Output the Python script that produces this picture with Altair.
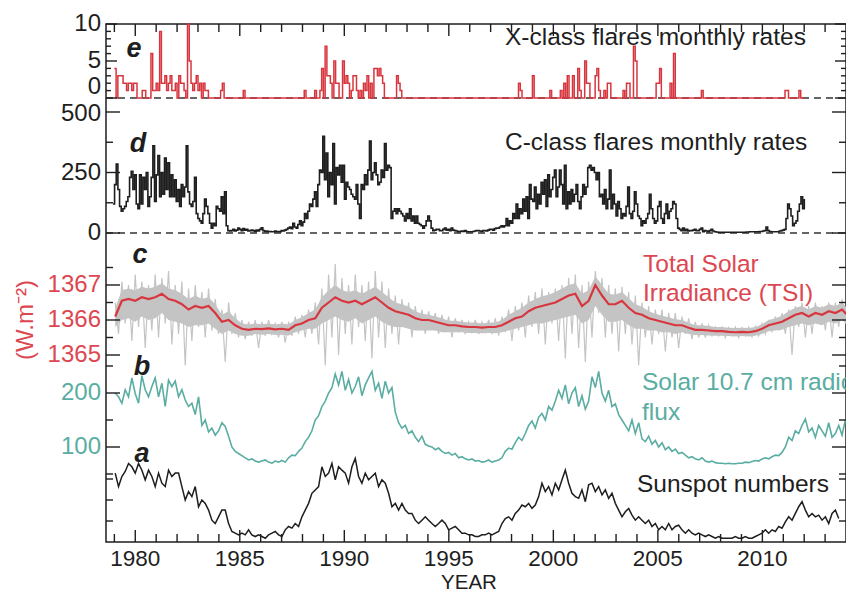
import altair as alt
import numpy as np
import pandas as pd

# ---------------- data ----------------
# a: sunspot numbers, sampled every SS_DT years from SS_T0
SS_T0 = 1979.04
SS_DT = 0.1595
SUNSPOT = [
    164, 132, 156, 168, 187, 179, 164, 187, 171, 148, 171, 156, 132, 164, 140, 132, 171, 156, 164, 164,
    132, 100, 120, 108, 132, 84, 100, 92, 76, 52, 44, 60, 76, 76, 44, 25, 21, 17, 21, 17,
    29, 17, 13, 17, 13, 9, 17, 21, 25, 17, 13, 29, 37, 33, 44, 37, 60, 76, 92, 116,
    124, 132, 179, 156, 164, 187, 148, 179, 171, 164, 140, 179, 199, 156, 140, 164, 148, 156, 164, 132,
    148, 140, 116, 84, 92, 76, 92, 76, 68, 68, 52, 44, 52, 60, 52,
    44, 37, 44, 52, 44, 29, 33, 37, 29, 21, 21, 17, 17, 13, 13, 17, 17, 21, 17, 21,
    25, 44, 56, 60, 52, 68, 76, 88, 84, 92, 80, 88, 108, 140, 120, 132, 112, 140, 124, 148,
    171, 140, 116, 108, 104, 124, 96, 136, 140, 120, 132, 112, 124, 104, 116, 92, 76, 60, 72, 80,
    64, 52, 60, 52, 44, 52, 37, 44, 29, 37, 29, 44, 29, 37, 40, 29, 21, 29, 21, 17,
    21, 17, 13, 17, 13, 9, 13, 9, 9, 9, 9, 13, 9, 9, 13, 9, 9, 13, 17, 21,
    29, 21, 29, 25, 37, 33, 48, 60, 52, 68, 84, 96, 76, 60, 68, 60, 64, 52, 60, 44,
    68, 76, 56,
]

# b: solar 10.7 cm radio flux (sfu), same sampling
F107 = [
    200, 193, 181, 206, 193, 228, 199, 181, 232, 206, 193, 212, 228, 193, 218, 175, 224, 212, 222, 193,
    206, 187, 175, 181, 160, 193, 140, 150, 128, 135, 122, 130, 145, 138, 120, 100, 92, 88, 84, 80,
    76, 78, 74, 72, 74, 76, 72, 70, 74, 72, 75, 72, 80, 85, 84, 92, 98, 110, 118, 130,
    150, 158, 175, 185, 200, 210, 235, 215, 240, 205, 225, 200, 212, 230, 195, 215, 228, 240, 205, 218,
    190, 222, 200, 210, 165, 145, 135, 140, 125, 130, 118, 110, 120, 105, 102,
    100, 95, 98, 92, 88, 90,
    85, 88, 80, 82, 78, 76, 78, 74, 75, 72, 73, 76, 72, 74, 76, 80,
    92, 98, 96, 108, 118, 112, 125,
    140, 148, 135, 155, 162, 150, 175, 168, 185,
    205, 190, 215, 180, 200, 210, 175, 195, 170, 185,
    230, 210, 240, 200,
    185, 205, 175, 180, 160, 150,
    140, 130, 150, 125, 145,
    115, 110, 120, 105, 112, 100, 108, 95, 100, 92, 96, 88, 90,
    85, 80, 82, 78, 76, 80, 74, 72, 74, 71, 70, 70, 69, 70, 69, 69, 70, 70, 72, 71,
    73, 75, 74, 78, 80, 78, 82, 85, 84,
    90, 100, 118, 112, 130, 125, 140, 152, 128, 135, 118, 140, 130, 120, 145, 118, 125, 140, 122, 150,
]

# c: total solar irradiance (W m-2), sampled every TSI_DT years
TSI_T0 = 1979.04
TSI_DT = 0.319
TSI_SMOOTH = [
    1366.10, 1366.55, 1366.60, 1366.55, 1366.65, 1366.60, 1366.65, 1366.75, 1366.60, 1366.55,
    1366.45, 1366.30, 1366.40, 1366.35, 1366.40, 1366.20, 1365.95, 1366.00, 1365.85, 1365.75,
    1365.72, 1365.75, 1365.74, 1365.76, 1365.73, 1365.75, 1365.72, 1365.85, 1365.90, 1366.00,
    1366.05, 1366.35, 1366.50, 1366.65, 1366.55, 1366.50, 1366.55, 1366.45, 1366.55, 1366.65,
    1366.50, 1366.35, 1366.25, 1366.20, 1366.15, 1366.05, 1366.00, 1366.00, 1365.95, 1365.90,
    1365.85, 1365.85, 1365.82, 1365.80, 1365.80, 1365.78, 1365.80, 1365.80, 1365.85, 1365.95,
    1366.05, 1366.10, 1366.25, 1366.35, 1366.40, 1366.45, 1366.50, 1366.60, 1366.70, 1366.75,
    1366.40, 1366.55, 1367.00, 1366.70, 1366.45, 1366.45, 1366.55, 1366.35, 1366.20, 1366.15,
    1366.05, 1366.00, 1365.95, 1365.90, 1365.85, 1365.85, 1365.78, 1365.72, 1365.72, 1365.70,
    1365.68, 1365.68, 1365.66, 1365.65, 1365.66, 1365.65, 1365.68, 1365.75, 1365.85, 1365.90,
    1365.95, 1366.05, 1366.15, 1366.20, 1366.10, 1366.20, 1366.15, 1366.25, 1366.20, 1366.30,
    1366.10,
]
# daily TSI spread: dense band (bulk high / bulk low) and the spike extremes (high / low)
TSI_BULK_HIGH = [
    1366.35, 1366.85, 1366.9, 1366.85, 1366.95, 1366.9, 1366.95, 1367.05, 1366.9, 1366.85,
    1366.75, 1366.6, 1366.7, 1366.6, 1366.65, 1366.45, 1366.15, 1366.25, 1366.05, 1365.9,
    1365.87, 1365.9, 1365.88, 1365.9, 1365.87, 1365.9, 1365.87, 1366.0, 1366.08, 1366.2,
    1366.3, 1366.65, 1366.85, 1367.0, 1366.85, 1366.8, 1366.85, 1366.75, 1366.85, 1366.95,
    1366.8, 1366.65, 1366.5, 1366.45, 1366.38, 1366.25, 1366.18, 1366.15, 1366.1, 1366.05,
    1365.98, 1365.98, 1365.95, 1365.93, 1365.93, 1365.9, 1365.93, 1365.93, 1366.0, 1366.15,
    1366.25, 1366.35, 1366.5, 1366.6, 1366.68, 1366.72, 1366.8, 1366.9, 1367.0, 1367.05,
    1366.75, 1366.85, 1367.25, 1367.0, 1366.75, 1366.72, 1366.8, 1366.62, 1366.45, 1366.38,
    1366.25, 1366.18, 1366.12, 1366.08, 1366.02, 1366.0, 1365.92, 1365.85, 1365.85, 1365.83,
    1365.8, 1365.8, 1365.78, 1365.77, 1365.78, 1365.77, 1365.8, 1365.88, 1366.0, 1366.05,
    1366.12, 1366.25, 1366.35, 1366.4, 1366.3, 1366.4, 1366.35, 1366.45, 1366.4, 1366.5,
    1366.3,
]
TSI_BULK_LOW = [
    1365.8, 1366.0, 1366.05, 1365.95, 1366.1, 1366.0, 1366.05, 1366.2, 1366.0, 1365.95,
    1365.9, 1365.8, 1365.85, 1365.85, 1365.9, 1365.75, 1365.6, 1365.7, 1365.6, 1365.55,
    1365.55, 1365.6, 1365.58, 1365.6, 1365.57, 1365.58, 1365.56, 1365.65, 1365.7, 1365.75,
    1365.75, 1365.9, 1366.0, 1366.1, 1366.0, 1365.95, 1366.05, 1365.9, 1366.0, 1366.1,
    1365.95, 1365.85, 1365.8, 1365.8, 1365.75, 1365.7, 1365.7, 1365.7, 1365.7, 1365.65,
    1365.65, 1365.65, 1365.65, 1365.63, 1365.63, 1365.62, 1365.63, 1365.62, 1365.65, 1365.7,
    1365.75, 1365.8, 1365.85, 1365.9, 1365.9, 1365.95, 1366.0, 1366.05, 1366.1, 1366.15,
    1365.9, 1366.0, 1366.4, 1366.15, 1365.95, 1365.95, 1366.0, 1365.85, 1365.75, 1365.75,
    1365.7, 1365.7, 1365.65, 1365.65, 1365.6, 1365.65, 1365.6, 1365.57, 1365.57, 1365.56,
    1365.55, 1365.55, 1365.54, 1365.53, 1365.54, 1365.53, 1365.55, 1365.6, 1365.68, 1365.7,
    1365.72, 1365.8, 1365.85, 1365.9, 1365.85, 1365.9, 1365.85, 1365.95, 1365.9, 1366.0,
    1365.85,
]
TSI_HIGH = [
    1366.5, 1367.1, 1367.0, 1367.3, 1367.1, 1367.0, 1367.3, 1367.2, 1367.4, 1367.0,
    1367.1, 1366.9, 1367.0, 1366.8, 1366.9, 1366.6, 1366.3, 1366.5, 1366.2, 1366.0,
    1365.95, 1366.0, 1365.95, 1366.0, 1365.9, 1365.95, 1365.95, 1366.1, 1366.15, 1366.3,
    1366.5, 1366.9, 1367.3, 1367.6, 1367.2, 1367.0, 1367.3, 1367.0, 1367.1, 1367.4,
    1367.1, 1366.9, 1366.7, 1366.6, 1366.5, 1366.4, 1366.3, 1366.25, 1366.2, 1366.15,
    1366.1, 1366.05, 1366.0, 1365.95, 1366.0, 1365.95, 1366.0, 1366.05, 1366.1, 1366.3,
    1366.4, 1366.5, 1366.7, 1366.8, 1366.9, 1366.8, 1366.9, 1367.0, 1367.2, 1367.3,
    1367.0, 1367.1, 1367.4, 1367.2, 1367.0, 1366.9, 1366.95, 1366.8, 1366.7, 1366.5,
    1366.4, 1366.3, 1366.3, 1366.2, 1366.2, 1366.1, 1366.05, 1365.95, 1365.9, 1365.85,
    1365.8, 1365.8, 1365.78, 1365.8, 1365.78, 1365.8, 1365.82, 1365.9, 1366.0, 1366.1,
    1366.2, 1366.3, 1366.4, 1366.5, 1366.4, 1366.5, 1366.4, 1366.5, 1366.5, 1366.6,
    1366.3,
]
TSI_LOW = [
    1365.6, 1365.9, 1365.4, 1365.8, 1365.2, 1365.7, 1365.5, 1365.9, 1365.3, 1365.6,
    1364.7, 1365.4, 1365.8, 1365.5, 1365.7, 1365.6, 1364.8, 1365.6, 1365.5, 1365.45,
    1365.55, 1365.2, 1365.55, 1365.6, 1365.5, 1365.35, 1365.55, 1365.6, 1365.5, 1365.6,
    1365.3, 1364.7, 1365.5, 1365.0, 1365.6, 1365.3, 1365.8, 1365.4, 1364.9, 1365.5,
    1365.2, 1365.6, 1365.3, 1365.8, 1365.5, 1365.7, 1365.6, 1365.75, 1365.6, 1365.65,
    1365.5, 1365.65, 1365.6, 1365.65, 1365.6, 1365.65, 1365.6, 1365.55, 1365.65, 1365.4,
    1365.7, 1365.5, 1365.8, 1365.6, 1365.3, 1365.9, 1365.4, 1364.9, 1365.6, 1365.2,
    1364.8, 1365.5, 1366.2, 1365.5, 1365.6, 1365.1, 1365.6, 1365.3, 1364.7, 1365.5,
    1365.3, 1365.6, 1365.1, 1365.5, 1365.2, 1365.6, 1365.45, 1365.5, 1365.5, 1365.55,
    1365.55, 1365.5, 1365.55, 1365.5, 1365.55, 1365.52, 1365.55, 1365.6, 1365.65, 1365.7,
    1365.6, 1365.0, 1365.8, 1365.5, 1365.6, 1365.9, 1365.7, 1365.5, 1365.8, 1365.9,
    1365.6,
]

# d: C-class flares monthly rates, sampled every CF_DT years from CF_T0
CF_T0 = 1978.93
CF_DT = 0.0797
C_FLARES = [
    120, 200, 285, 180, 110, 90, 100, 110, 130, 150, 230, 255, 180, 240, 120, 100, 240, 120, 230, 180,
    250, 110, 150, 230, 360, 130, 240, 320, 150, 250, 160, 310, 180, 290, 150, 240, 150, 220, 130, 180,
    110, 200, 150, 190, 360, 170, 120, 110, 130, 230, 80, 60, 50, 40, 80, 140, 110, 80, 40, 20,
    40, 30, 110, 100, 90, 150, 80, 170, 30, 10, 8,
    10, 15, 8, 12, 20, 15, 10, 18, 12, 15, 8, 10, 12, 10, 6, 12, 8, 15, 22, 10,
    6, 8, 5, 6, 5, 5, 8, 5, 6, 5, 10, 8, 12, 15, 20, 25, 18,
    40, 25, 20, 35, 50, 30, 45, 80, 60, 90, 120, 110, 140, 170, 110, 200, 260, 250, 400, 220,
    330, 150, 250, 200, 370, 120, 270, 240, 280, 210, 280, 140, 210, 190, 180,
    160, 150, 140, 200, 120, 60, 200, 180, 240, 200, 260, 380, 220, 250, 290, 240, 200, 210, 260, 230,
    370, 260, 280, 270, 60, 90, 100, 80, 100, 90, 80, 70, 50, 80, 60, 100, 50, 70, 40, 70,
    40, 35, 30, 20, 30, 50, 70, 50, 20, 10,
    12, 15, 15, 10, 10, 15, 20, 12, 15, 10, 20, 12, 10, 8, 5, 6, 8, 6, 10, 6,
    5, 5, 5, 6, 8, 10, 10, 8, 6, 10, 10, 8, 12, 15, 15, 12, 18, 20, 20, 25, 30, 25,
    30, 60, 30, 50, 40, 80, 60, 120, 60, 100, 80, 140, 90, 150, 60, 200, 140, 130, 190, 100,
    160, 120, 210, 160, 220, 110, 240, 150, 180, 230, 260, 150, 190, 260, 200, 120, 280, 100, 170, 120,
    180, 130, 160, 200, 130, 100, 150, 200, 160, 190, 270, 280, 260, 270, 250, 220,
    250, 150, 160, 120, 180, 100, 140, 260, 100, 160, 120, 70, 130, 100, 60, 80, 70, 110, 190, 80,
    60, 90, 170, 120, 70, 60, 30, 50, 40, 60, 80, 160, 100, 60, 40, 50, 110, 130, 60, 40,
    80, 120, 60, 90, 100, 130, 120, 60, 20, 15,
    10, 20, 10, 15, 8, 10, 10, 12, 15, 10, 10, 15, 20, 5, 10, 8, 5, 10, 15, 8,
    5, 4, 3, 3, 3, 3, 3, 3, 3, 3, 3, 3, 3, 3, 3, 3, 3, 3, 3, 4,
    4, 5, 5, 5, 5, 5, 5, 6, 6, 8, 10, 25, 10, 6, 5, 5, 5, 5, 5, 8, 10, 12, 15,
    60, 120, 100, 70, 30, 40, 50, 90, 120, 150, 100, 140,
]

# e: X-class flares monthly rates; months (since Jan 1979) with a non-zero count
XF_START = 1979.0
XF_MONTHS = 396
XF_MONTH = [
    0, 2, 3, 4, 5, 6, 7, 8, 9, 10, 11, 12, 16, 17, 21, 22, 23, 24, 25, 26,
    27, 28, 29, 30, 31, 32, 33, 34, 35, 37, 38, 39, 40, 42, 43, 44, 45, 46, 47, 48,
    49, 51, 52, 53, 61, 62, 74, 109, 115, 118, 119, 121, 122, 123, 124, 126, 127, 128, 131, 132,
    133, 134, 136, 137, 138, 139, 141, 143, 144, 145, 147, 149, 150, 151, 152, 153, 154, 162, 163, 164,
    232, 233, 240, 250, 256, 258, 260, 263, 266, 267, 270, 271, 272, 276, 277, 278, 281, 283, 284, 292,
    294, 295, 298, 299, 311, 312, 313, 319, 321, 337, 385, 386, 393,
]
XF_COUNT = [
    4, 3, 3, 3, 2, 2, 1, 2, 2, 1, 2, 2, 1, 1, 6, 1, 1, 2, 1, 9,
    2, 2, 3, 1, 2, 3, 1, 1, 2, 3, 2, 2, 1, 10, 5, 2, 1, 2, 3, 1,
    2, 2, 1, 1, 1, 2, 1, 1, 1, 1, 4, 7, 3, 3, 2, 5, 2, 2, 5, 2,
    3, 2, 1, 3, 3, 1, 1, 2, 1, 3, 2, 4, 4, 3, 4, 3, 2, 3, 2, 1,
    2, 1, 3, 1, 1, 2, 3, 3, 4, 1, 5, 2, 2, 3, 4, 1, 1, 2, 2, 1,
    2, 2, 7, 5, 2, 2, 4, 2, 6, 1, 1, 1, 1,
]

YEAR_TICKS = list(range(1979, 2014))
YEAR_LABELS = [1980, 1985, 1990, 1995, 2000, 2005, 2010]

E_MAJOR, E_MINOR = [0, 5, 10], [1, 2, 3, 4, 6, 7, 8, 9]
D_MAJOR, D_MINOR = [0, 250, 500], [125, 375]
C_MAJOR, C_MINOR = [1365, 1366, 1367], [1365.5, 1366.5, 1367.5]
B_MAJOR, B_MINOR = [100, 200], [50, 150, 250]
A_MINOR = [50, 100, 150]

TEXTS = {
    "x": "X-class flares monthly rates",
    "c": "C-class flares monthly rates",
    "tsi1": "Total Solar",
    "tsi2": "Irradiance (TSI)",
    "rf1": "Solar 10.7 cm radio",
    "rf2": "flux",
    "ss": "Sunspot numbers",
    "unit": "(W.m⁻²)",
    "xtitle": "YEAR",
}
PANEL_LETTERS = ["e", "d", "c", "b", "a"]

# ---------------- tables ----------------
ss_df = pd.DataFrame({"year": SS_T0 + SS_DT * np.arange(len(SUNSPOT)), "v": SUNSPOT})
rf_df = pd.DataFrame({"year": SS_T0 + SS_DT * np.arange(len(F107)), "v": F107})
t_tsi = TSI_T0 + TSI_DT * np.arange(len(TSI_SMOOTH))
tsi_df = pd.DataFrame({"year": t_tsi, "v": TSI_SMOOTH, "bhi": TSI_BULK_HIGH, "blo": TSI_BULK_LOW})
spike_df = pd.DataFrame({
    "year": np.ravel(np.column_stack([t_tsi, t_tsi + TSI_DT / 2])),
    "v": np.ravel(np.column_stack([TSI_HIGH, TSI_LOW])),
})
cf_df = pd.DataFrame({"year": CF_T0 + CF_DT * np.arange(len(C_FLARES)), "v": C_FLARES})
xf_counts = np.zeros(XF_MONTHS + 1)
xf_counts[XF_MONTH] = XF_COUNT
xf_df = pd.DataFrame({"year": XF_START + np.arange(XF_MONTHS + 1) / 12.0, "v": xf_counts})

# ---------------- styling ----------------
W, H = 740, 518
FONT = "Liberation Sans"
INK = "#1e1e1e"
RED = "#d8363f"
RED_TXT = "#dc4751"
TEAL = "#5aada2"
GRAY = "#c4c4c4"
LABEL_SIZE = 24

XS = alt.Scale(domain=[1978.6, 2014.0], nice=False, zero=False)


def xenc(field="year"):
    return alt.X(f"{field}:Q", scale=XS, axis=None)


def ticks(vals, scale, length):
    df = pd.DataFrame({"v": vals})
    yy = alt.Y("v:Q", scale=scale, axis=None)
    left = alt.Chart(df).mark_rule(color=INK, strokeWidth=1.4).encode(
        y=yy, x=alt.value(0), x2=alt.value(length))
    right = alt.Chart(df).mark_rule(color=INK, strokeWidth=1.4).encode(
        y=yy, x=alt.value(W - length), x2=alt.value(W))
    return [left, right]


def ylabels(vals, scale, color, dy=0):
    df = pd.DataFrame({"v": vals, "t": [str(v) for v in vals]})
    return alt.Chart(df).mark_text(
        align="right", baseline="middle", fontSize=LABEL_SIZE, font=FONT, color=color, dy=dy).encode(
        y=alt.Y("v:Q", scale=scale, axis=None), x=alt.value(-5), text="t:N")


def zero_line(scale):
    return alt.Chart(pd.DataFrame({"v": [0]})).mark_rule(
        color="#333333", strokeWidth=1.5, strokeDash=[7, 5]).encode(
        y=alt.Y("v:Q", scale=scale, axis=None), x=alt.value(0), x2=alt.value(W))


# panel e: X-class flares
ys_e = alt.Scale(domain=[0, 10], range=[74, 0], nice=False, zero=False)
panel_e = alt.layer(
    zero_line(ys_e),
    alt.Chart(xf_df).mark_line(color=RED, strokeWidth=1.5, interpolate="step-after").encode(
        x=xenc(), y=alt.Y("v:Q", scale=ys_e, axis=None)),
    *ticks(E_MAJOR, ys_e, 11), *ticks(E_MINOR, ys_e, 5),
    ylabels([10, 5], ys_e, INK), ylabels([0], ys_e, INK, dy=-11),
)

# panel d: C-class flares
ys_d = alt.Scale(domain=[0, 500], range=[209, 88], nice=False, zero=False)
panel_d = alt.layer(
    zero_line(ys_d),
    alt.Chart(cf_df).mark_line(color=INK, strokeWidth=1.6, interpolate="step-after").encode(
        x=xenc(), y=alt.Y("v:Q", scale=ys_d, axis=None)),
    *ticks(D_MAJOR, ys_d, 14), *ticks(D_MINOR, ys_d, 7),
    ylabels([250, 0], ys_d, INK), ylabels([500], ys_d, INK, dy=2),
)

# panel c: TSI
ys_c = alt.Scale(domain=[1365, 1367], range=[331, 261], nice=False, zero=False)
panel_c = alt.layer(
    alt.Chart(tsi_df).mark_area(color=GRAY, opacity=1, clip=True).encode(
        x=xenc(), y=alt.Y("bhi:Q", scale=ys_c, axis=None), y2="blo:Q"),
    alt.Chart(spike_df).mark_line(color=GRAY, strokeWidth=1.2, clip=True).encode(
        x=xenc(), y=alt.Y("v:Q", scale=ys_c, axis=None)),
    alt.Chart(tsi_df).mark_line(color=RED, strokeWidth=2.2, clip=True).encode(
        x=xenc(), y=alt.Y("v:Q", scale=ys_c, axis=None)),
    *ticks(C_MAJOR, ys_c, 14), *ticks(C_MINOR, ys_c, 7),
    ylabels(C_MAJOR, ys_c, RED_TXT),
)

# panel b: F10.7
ys_b = alt.Scale(domain=[100, 200], range=[423, 369], nice=False, zero=False)
panel_b = alt.layer(
    alt.Chart(rf_df).mark_line(color=TEAL, strokeWidth=1.6, clip=True).encode(
        x=xenc(), y=alt.Y("v:Q", scale=ys_b, axis=None)),
    *ticks(B_MAJOR, ys_b, 14), *ticks(B_MINOR, ys_b, 7),
    ylabels(B_MAJOR, ys_b, TEAL),
)

# panel a: sunspots
ys_a = alt.Scale(domain=[0, 200], range=[518, 434], nice=False, zero=False)
panel_a = alt.layer(
    alt.Chart(ss_df).mark_line(color=INK, strokeWidth=1.5).encode(
        x=xenc(), y=alt.Y("v:Q", scale=ys_a, axis=None)),
    *ticks(A_MINOR, ys_a, 7),
)

# x ticks (inward, top and bottom) and year labels
yrs = pd.DataFrame({"year": YEAR_TICKS})
major_yrs = yrs[yrs["year"] % 5 == 0]
minor_yrs = yrs[yrs["year"] % 5 != 0]


def xticks(df, length):
    r = dict(color=INK, strokeWidth=1.4)
    bottom = alt.Chart(df).mark_rule(**r).encode(
        x=xenc(), y=alt.value(H - length), y2=alt.value(H))
    top = alt.Chart(df).mark_rule(**r).encode(
        x=xenc(), y=alt.value(0), y2=alt.value(length))
    return [bottom, top]


year_labels = alt.Chart(pd.DataFrame({"year": YEAR_LABELS,
                                      "t": [str(y) for y in YEAR_LABELS]})).mark_text(
    align="center", baseline="alphabetic", fontSize=22.5, font=FONT, color=INK).encode(
    x=xenc(), y=alt.value(H + 24), text="t:N")


def label(text, x, y, color, size=24.5, weight="normal", style="normal", clip=False,
          align="left", angle=0, baseline="alphabetic"):
    return alt.Chart(pd.DataFrame({"t": [text]})).mark_text(
        align=align, baseline=baseline, fontSize=size, font=FONT, color=color,
        fontWeight=weight, fontStyle=style, clip=clip, angle=angle).encode(
        text="t:N", x=alt.value(x), y=alt.value(y))


letter_pos = [(28, 33), (32, 128), (34, 239), (36, 351), (36, 438)]
texts = [
    label(TEXTS["x"], 399, 21, INK),
    label(TEXTS["c"], 399, 126, INK),
    label(TEXTS["tsi1"], 537, 248, RED_TXT),
    label(TEXTS["tsi2"], 537, 277, RED_TXT),
    label(TEXTS["rf1"], 536, 366, TEAL, clip=True),
    label(TEXTS["rf2"], 536, 396, TEAL),
    label(TEXTS["ss"], 531, 468, INK),
    label(TEXTS["unit"], -80, 296, RED_TXT, size=24, align="center", angle=270, baseline="middle"),
    label(TEXTS["xtitle"], 363, H + 46.8, INK, size=20.5, align="center"),
] + [
    label(t, px, py, INK, size=27, weight="bold", style="italic", align="center")
    for t, (px, py) in zip(PANEL_LETTERS, letter_pos)
]

chart = alt.layer(
    panel_c, panel_b, panel_a, panel_d, panel_e,
    *xticks(major_yrs, 12), *xticks(minor_yrs, 8), year_labels,
    *texts,
).resolve_scale(y="independent").properties(
    width=W, height=H,
    autosize=alt.AutoSizeParams(type="none"),
    padding={"left": 98, "top": 16, "right": 0, "bottom": 51},
).configure(font=FONT).configure_view(stroke=INK, strokeWidth=1.5)

chart.save("out.html", embed_options={"renderer": "svg", "actions": False})
